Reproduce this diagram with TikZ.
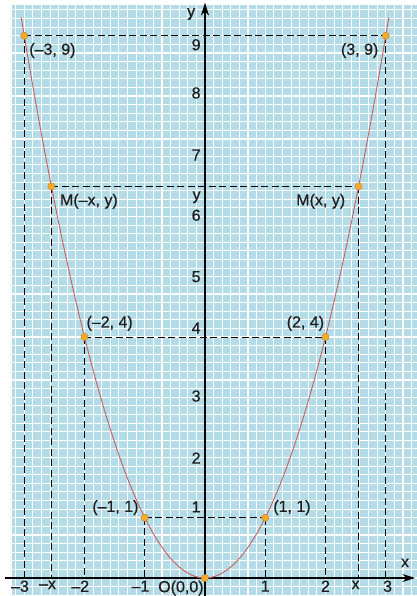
\documentclass[tikz,border=0pt]{standalone}
\usepackage{fontspec}
\setmainfont[FakeBold=0.6]{Liberation Sans}
\usetikzlibrary{arrows.meta}
\definecolor{gridblue}{RGB}{180,220,232}
\definecolor{curvered}{RGB}{200,95,95}
\definecolor{dotorange}{RGB}{248,170,45}
\definecolor{txt}{RGB}{30,30,30}
\begin{document}
\begin{tikzpicture}[x=60.25pt,y=60.25pt,
  lbl/.style={font=\fontsize{16}{18}\selectfont, text=txt, inner sep=0pt},
  dashln/.style={black, line width=0.9pt, dash pattern=on 7pt off 3.5pt},
  axisln/.style={black, line width=1.2pt},
  dot/.style={circle, fill=dotorange, draw=dotorange!80!black, line width=0.3pt, minimum size=7pt, inner sep=0pt},
  curve/.style={curvered, line width=0.9pt}]
\useasboundingbox (-3.4025,-0.2988) rectangle (3.5187,9.5934);
% graph paper
\fill[gridblue] (-3.203,-0.2988) rectangle (3.5187,9.510);
\begin{scope}
  \clip (-3.203,-0.2988) rectangle (3.5187,9.510);
  \draw[white, line width=1.1pt, step=0.142857] (-3.4,-0.4) grid (3.6,9.6);
\end{scope}
% points
\node[dot] (p3l) at (-3,9) {};
\node[dot] (p3r) at (3,9) {};
\node[dot] (pml) at (-2.55,6.5) {};
\node[dot] (pmr) at (2.55,6.5) {};
\node[dot] (p2l) at (-2,4) {};
\node[dot] (p2r) at (2,4) {};
\node[dot] (p1l) at (-1,1) {};
\node[dot] (p1r) at (1,1) {};
\node[dot] (p0) at (0,0) {};
% feet on x axis
\coordinate (f3l) at (-3,0);
\coordinate (f3r) at (3,0);
\coordinate (fml) at (-2.55,0);
\coordinate (fmr) at (2.55,0);
\coordinate (f2l) at (-2,0);
\coordinate (f2r) at (2,0);
\coordinate (f1l) at (-1,0);
\coordinate (f1r) at (1,0);
% dashed guides
\draw[dashln] (p3l.center) -- (p3r.center);
\draw[dashln] (p3l.center) -- (f3l);
\draw[dashln] (p3r.center) -- (f3r);
\draw[dashln] (pml.center) -- (pmr.center);
\draw[dashln] (pml.center) -- (fml);
\draw[dashln] (pmr.center) -- (fmr);
\draw[dashln] (p2l.center) -- (p2r.center);
\draw[dashln] (p2l.center) -- (f2l);
\draw[dashln] (p2r.center) -- (f2r);
\draw[dashln] (p1l.center) -- (p1r.center);
\draw[dashln] (p1l.center) -- (f1l);
\draw[dashln] (p1r.center) -- (f1r);
% axes
\coordinate (xs) at (-3.32,0);
\coordinate (xe) at (3.49,0);
\coordinate (ys) at (0,-0.2988);
\coordinate (ye) at (0,9.55);
\draw[axisln, -{Stealth[length=13pt,width=8pt]}] (xs) -- (xe);
\draw[axisln, -{Stealth[length=13pt,width=8pt]}] (ys) -- (ye);
% parabola
\draw[curve, domain=-3.05:3.05, samples=120] plot (\x,{\x*\x});
% redraw dots on top
\foreach \n/\px/\py in {a/-3/9,b/3/9,c/-2.55/6.5,d/2.55/6.5,e/-2/4,f/2/4,g/-1/1,h/1/1,i/0/0}
  \node[dot] (d\n) at (\px,\py) {};
% axis names
\node[lbl] (ylab) at (-0.23,9.36) {y};
\node[lbl] (xlab) at (3.32,0.25) {x};
% y-axis numbers
\node[lbl, anchor=east] (y9) at (-0.07,8.85) {9};
\node[lbl, anchor=east] (y8) at (-0.07,8.05) {8};
\node[lbl, anchor=east] (y7) at (-0.07,7.02) {7};
\node[lbl, anchor=east] (yy) at (-0.07,6.32) {y};
\node[lbl, anchor=east] (y6) at (-0.07,6.02) {6};
\node[lbl, anchor=east] (y5) at (-0.07,5.0) {5};
\node[lbl, anchor=east] (y4) at (-0.07,4.15) {4};
\node[lbl, anchor=east] (y3) at (-0.07,3.02) {3};
\node[lbl, anchor=east] (y2) at (-0.07,1.99) {2};
\node[lbl, anchor=east] (y1) at (-0.07,1.18) {1};
% x-axis numbers
\node[lbl, anchor=north east] (xm3) at (-2.92,-0.04) {–3};
\node[lbl, anchor=north east] (xmx) at (-2.47,-0.04) {–x};
\node[lbl, anchor=north east] (xm2) at (-1.92,-0.04) {–2};
\node[lbl, anchor=north east] (xm1) at (-0.92,-0.04) {–1};
\node[lbl, anchor=north east] (xo) at (-0.02,-0.04) {O(0,0)};
\node[lbl, anchor=north] (x1) at (1,-0.04) {1};
\node[lbl, anchor=north] (x2) at (2,-0.04) {2};
\node[lbl, anchor=north] (xx) at (2.5,-0.04) {x};
\node[lbl, anchor=north] (x3) at (3.03,-0.04) {3};
% point labels
\node[lbl, anchor=north west] (l3l) at (-2.92,8.88) {(–3, 9)};
\node[lbl, anchor=north east] (l3r) at (2.88,8.88) {(3, 9)};
\node[lbl, anchor=north west] (lml) at (-2.41,6.38) {M(–x, y)};
\node[lbl, anchor=north east] (lmr) at (2.33,6.38) {M(x, y)};
\node[lbl, anchor=south west] (l2l) at (-1.97,4.1) {(–2, 4)};
\node[lbl, anchor=south east] (l2r) at (1.98,4.1) {(2, 4)};
\node[lbl, anchor=south east] (l1l) at (-1.1,1.04) {(–1, 1)};
\node[lbl, anchor=south west] (l1r) at (1.13,1.04) {(1, 1)};
\end{tikzpicture}
\end{document}
